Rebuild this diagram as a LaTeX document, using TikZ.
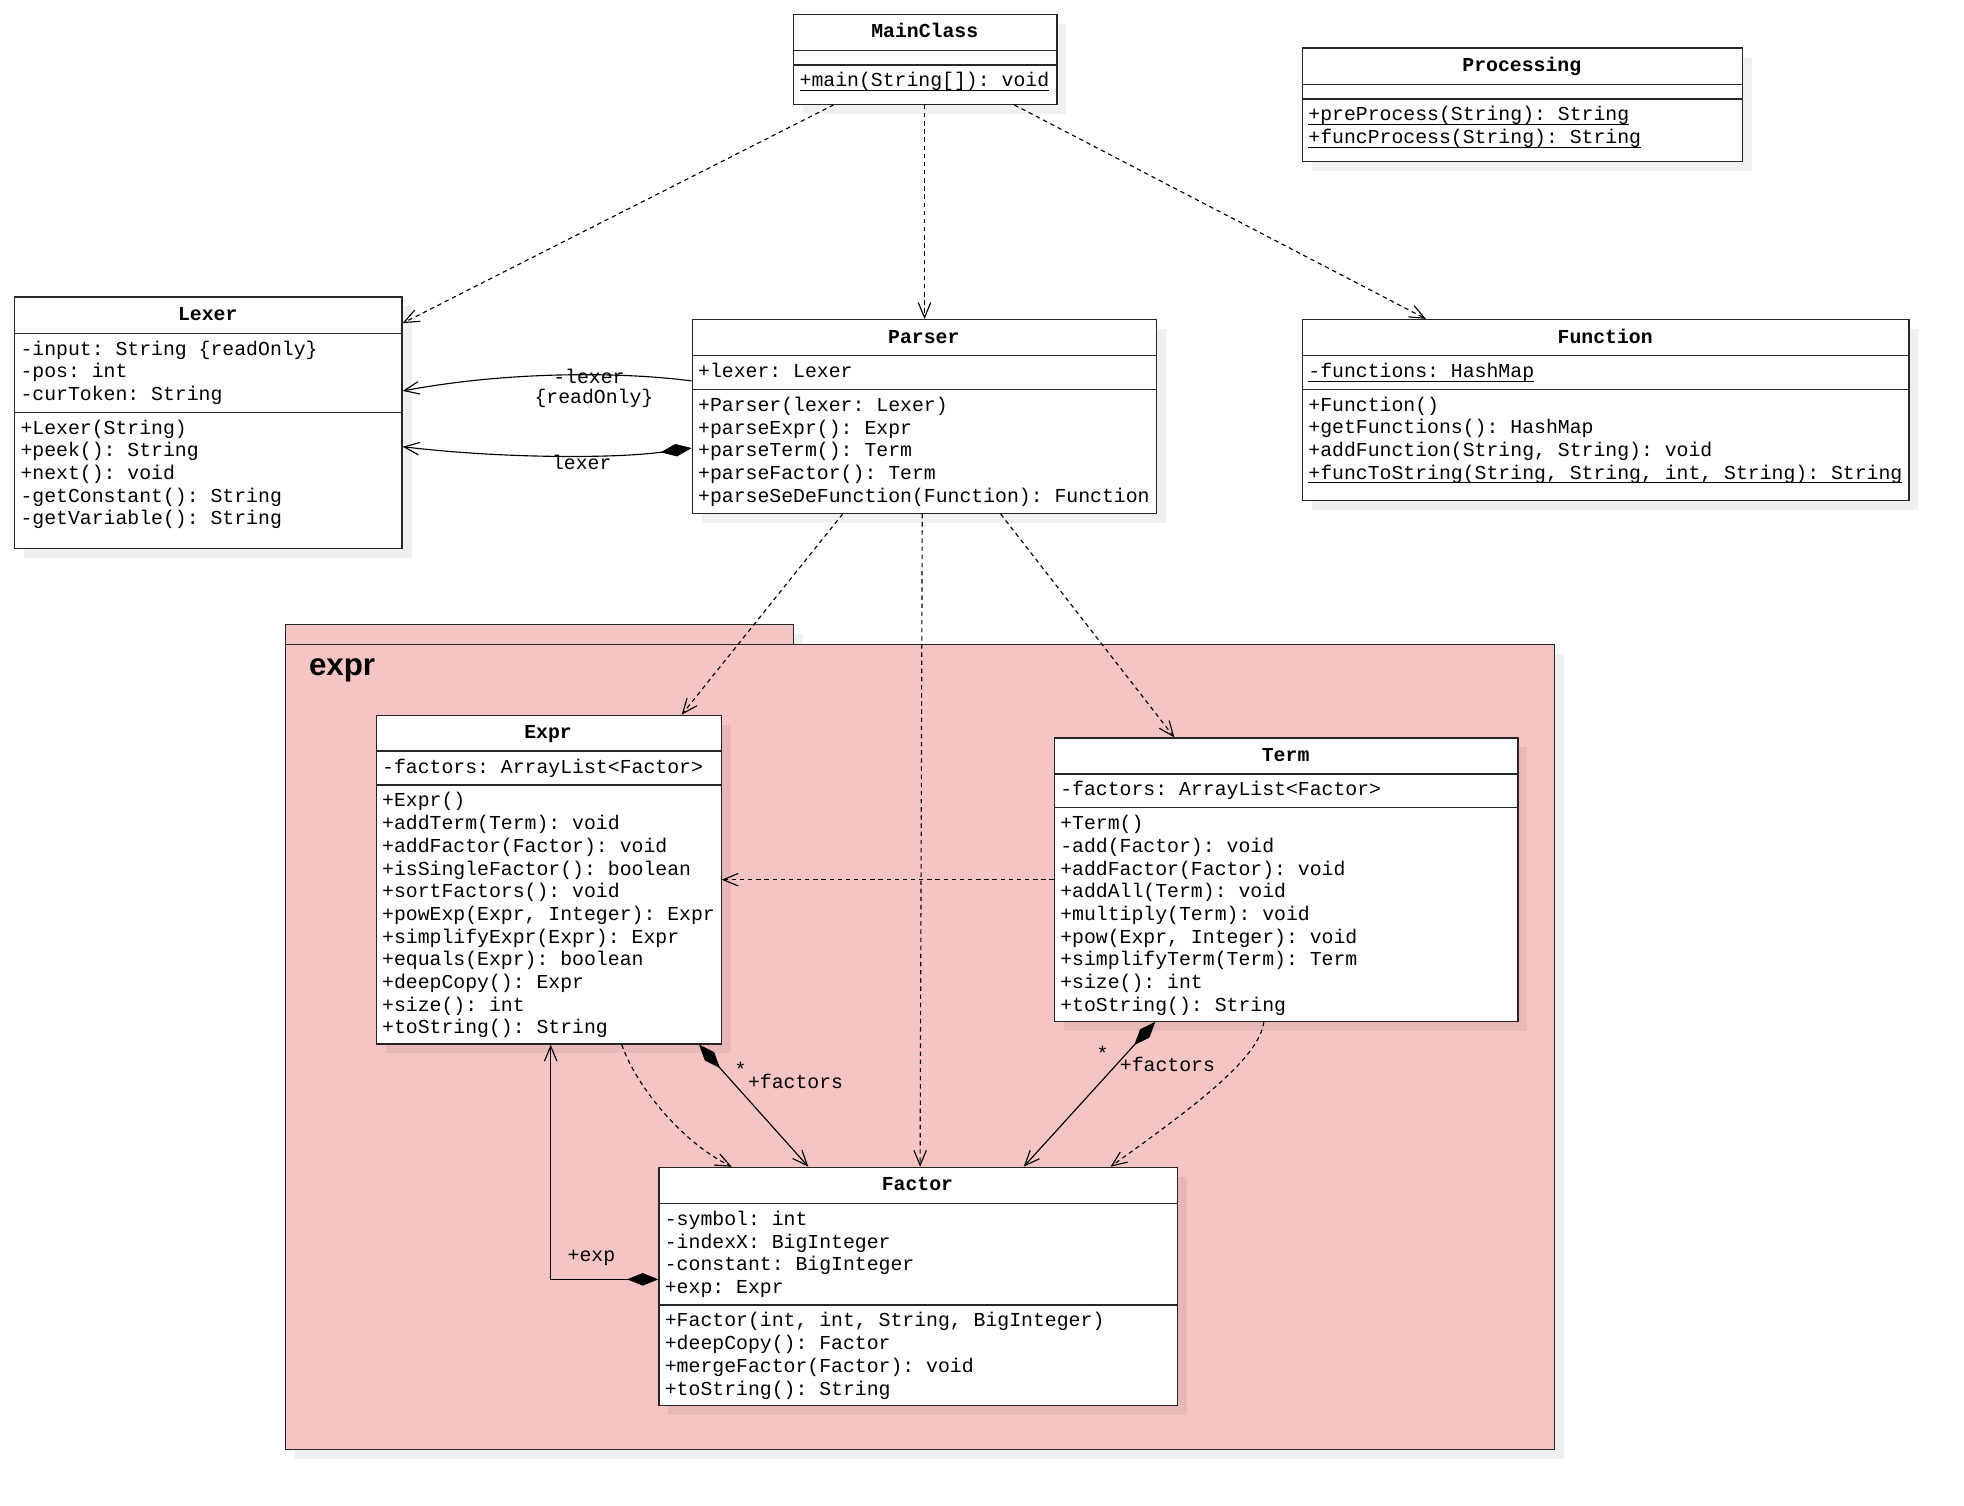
\documentclass[tikz,border=0pt]{standalone}
\usepackage{fontspec}
\setmainfont{Liberation Mono}
\newfontfamily\pkgfont{Liberation Sans}
\usepackage{tikz}
\usetikzlibrary{arrows.meta,shadows}
\frenchspacing

\definecolor{pkgpink}{RGB}{245,196,196}
\newcommand{\ulined}[1]{\setbox0=\hbox{#1}\rlap{\rule[-3.4pt]{\wd0}{0.9pt}}\box0}
\newcommand{\firstline}{\rule{0pt}{14pt}}

\tikzset{
    classbox/.style={draw=black!85, line width=1pt, fill=white, anchor=north west, inner sep=0pt,
        drop shadow={shadow xshift=7.5pt, shadow yshift=-7.5pt, fill=black, opacity=0.06}},
    pkgbox/.style={draw=black!85, line width=1pt, fill=pkgpink, anchor=north west, inner sep=0pt,
        drop shadow={shadow xshift=7.5pt, shadow yshift=-7.5pt, fill=black, opacity=0.06}},
    classname/.style={anchor=base, inner sep=0pt, font=\fontsize{15.8}{18.1}\selectfont\bfseries},
    members/.style={anchor=north west, align=left, inner sep=0pt, font=\fontsize{15.8}{18.1}\selectfont},
    lbl/.style={anchor=base, inner sep=0pt, font=\fontsize{15.8}{18.1}\selectfont},
    divider/.style={draw=black!85, line width=1pt},
    dep/.style={line width=0.9pt, dash pattern=on 3.5pt off 3pt, -{Straight Barb[length=12pt,width=10pt]}},
    assoc/.style={line width=0.9pt, -{Straight Barb[length=12pt,width=10pt]}},
    comp/.style={line width=0.9pt, {Diamond[length=25pt,width=10pt]}-{Straight Barb[length=12pt,width=10pt]}}
}

\begin{document}
\begin{tikzpicture}[x=1pt, y=-1pt]
                        \useasboundingbox (0,0) rectangle (1567.4,1201.1);

                        % package expr
                        \node[pkgbox, minimum width=405.5pt, minimum height=15.7pt] (pkgtab) at (227.5,498) {};
                        \node[pkgbox, minimum width=1012.5pt, minimum height=642.3pt] (pkgbody) at (227.5,513.7) {};
                        \node[anchor=base west, inner sep=0pt, font=\pkgfont\bfseries\fontsize{25}{30}\selectfont] (pkgname) at (246.4,538.7) {expr};

                        % MainClass
                        \node[classbox, minimum width=210pt, minimum height=71.9pt] (mainclass) at (633,10.8) {};
                        \node[classname] (mainclassT) at (738,30.1) {MainClass};
                        \draw[divider] (633,40.5) -- (843,40.5);
                        \draw[divider] (633,51.9) -- (843,51.9);
                        \node[members] (mainclassM) at (638,55.2) {\firstline\ulined{+main(String[]): void}};

                        % Processing
                        \node[classbox, minimum width=351pt, minimum height=90.6pt] (processing) at (1039,37.9) {};
                        \node[classname] (processingT) at (1214.5,57.2) {Processing};
                        \draw[divider] (1039,67.5) -- (1390,67.5);
                        \draw[divider] (1039,79) -- (1390,79);
                        \node[members] (processingM) at (1044,82.3) {\firstline\ulined{+preProcess(String): String}\\\ulined{+funcProcess(String): String}};

                        % Lexer
                        \node[classbox, minimum width=309.2pt, minimum height=200.9pt] (lexer) at (11.2,236.6) {};
                        \node[classname] (lexerT) at (165.8,255.9) {Lexer};
                        \draw[divider] (11.2,266) -- (320.4,266);
                        \draw[divider] (11.2,329) -- (320.4,329);
                        \node[members] (lexerA) at (16.2,269.3) {\firstline-input: String \{readOnly\}\\-pos: int\\-curToken: String};
                        \node[members] (lexerM) at (16.2,332.3) {\firstline+Lexer(String)\\+peek(): String\\+next(): void\\-getConstant(): String\\-getVariable(): String};

                        % Parser
                        \node[classbox, minimum width=370.6pt, minimum height=154.6pt] (parser) at (552,254.6) {};
                        \node[classname] (parserT) at (737.3,273.9) {Parser};
                        \draw[divider] (552,283.9) -- (922.6,283.9);
                        \draw[divider] (552,311) -- (922.6,311);
                        \node[members] (parserA) at (557,287.2) {\firstline+lexer: Lexer};
                        \node[members] (parserM) at (557,314.3) {\firstline+Parser(lexer: Lexer)\\+parseExpr(): Expr\\+parseTerm(): Term\\+parseFactor(): Term\\+parseSeDeFunction(Function): Function};

                        % Function
                        \node[classbox, minimum width=484pt, minimum height=144.5pt] (function) at (1039,254.5) {};
                        \node[classname] (functionT) at (1281,273.8) {Function};
                        \draw[divider] (1039,284) -- (1523,284);
                        \draw[divider] (1039,310.6) -- (1523,310.6);
                        \node[members] (functionA) at (1044,287.3) {\firstline\ulined{-functions: HashMap}};
                        \node[members] (functionM) at (1044,313.9) {\firstline+Function()\\+getFunctions(): HashMap\\+addFunction(String, String): void\\\ulined{+funcToString(String, String, int, String): String}};

                        % Expr
                        \node[classbox, minimum width=275.2pt, minimum height=262.3pt] (expr) at (299.8,570.4) {};
                        \node[classname] (exprT) at (437.4,589.7) {Expr};
                        \draw[divider] (299.8,599.4) -- (575,599.4);
                        \draw[divider] (299.8,626.5) -- (575,626.5);
                        \node[members] (exprA) at (304.8,602.7) {\firstline-factors: ArrayList<Factor>};
                        \node[members] (exprM) at (304.8,629.8) {\firstline+Expr()\\+addTerm(Term): void\\+addFactor(Factor): void\\+isSingleFactor(): boolean\\+sortFactors(): void\\+powExp(Expr, Integer): Expr\\+simplifyExpr(Expr): Expr\\+equals(Expr): boolean\\+deepCopy(): Expr\\+size(): int\\+toString(): String};

                        % Term
                        \node[classbox, minimum width=370pt, minimum height=226pt] (term) at (841,588.5) {};
                        \node[classname] (termT) at (1026,607.8) {Term};
                        \draw[divider] (841,617.7) -- (1211,617.7);
                        \draw[divider] (841,644.7) -- (1211,644.7);
                        \node[members] (termA) at (846,621) {\firstline-factors: ArrayList<Factor>};
                        \node[members] (termM) at (846,648) {\firstline+Term()\\-add(Factor): void\\+addFactor(Factor): void\\+addAll(Term): void\\+multiply(Term): void\\+pow(Expr, Integer): void\\+simplifyTerm(Term): Term\\+size(): int\\+toString(): String};

                        % Factor
                        \node[classbox, minimum width=413.6pt, minimum height=190.2pt] (factor) at (525.4,931.1) {};
                        \node[classname] (factorT) at (732.2,950.4) {Factor};
                        \draw[divider] (525.4,960.4) -- (939,960.4);
                        \draw[divider] (525.4,1041.5) -- (939,1041.5);
                        \node[members] (factorA) at (530.4,963.7) {\firstline-symbol: int\\-indexX: BigInteger\\-constant: BigInteger\\+exp: Expr};
                        \node[members] (factorM) at (530.4,1044.8) {\firstline+Factor(int, int, String, BigInteger)\\+deepCopy(): Factor\\+mergeFactor(Factor): void\\+toString(): String};

                        % dependencies
                        \draw[dep] ([xshift=-73.2pt]mainclass.south) to ([yshift=-21.3pt]lexer.north east);
                        \draw[dep] ([xshift=-0.7pt]mainclass.south) to (parser.north);
                        \draw[dep] ([xshift=70.9pt]mainclass.south) to ([xshift=99pt]function.north west);
                        \draw[dep] ([xshift=120.5pt]parser.south west) to ([xshift=244.2pt]expr.north west);
                        \draw[dep] ([xshift=184pt]parser.south west) to ([xshift=208.9pt]factor.north west);
                        \draw[dep] ([xshift=246.6pt]parser.south west) to ([xshift=96.2pt]term.north west);
                        \draw[dep] (expr.east -| term.west) to (expr.east);
                        \draw[dep] ([xshift=196.4pt]expr.south west) .. controls +(11.8,34) and +(-39,-19) .. ([xshift=58.6pt]factor.north west);
                        \draw[dep] ([xshift=167.6pt]term.south west) .. controls +(-3.6,30) and +(63.7,-46) .. ([xshift=360.9pt]factor.north west);

                        % associations
                        \draw[assoc] ([yshift=-49.4pt]parser.north west) .. controls +(-62,-8) and +(79.6,-15) .. ([yshift=-75.4pt]lexer.north east);
                        \draw[comp] ([yshift=-103pt]parser.north west) .. controls +(-62,8.4) and +(79.6,9.5) .. ([yshift=-119.9pt]lexer.north east);
                        \draw[comp] ([xshift=258.1pt]expr.south west) to ([xshift=119.7pt]factor.north west);
                        \draw[comp] ([xshift=81pt]term.south west) to ([xshift=291.6pt]factor.north west);
                        \draw[comp] ([yshift=-89.9pt]factor.north west) -| ([xshift=139.7pt]expr.south west);

                        \node[lbl] (lexerRO1) at (470,305.7) {-lexer};
                        \node[lbl] (lexerRO2) at (474,321.8) {\{readOnly\}};
                        \node[lbl] (lexerC) at (464.3,375) {lexer};
                        \node[lbl] (exprStar) at (591,859) {*};
                        \node[lbl] (exprFactors) at (634.9,868.6) {+factors};
                        \node[lbl] (termStar) at (880,846.7) {*};
                        \node[lbl] (termFactors) at (931.7,855.5) {+factors};
                        \node[lbl] (factorExp) at (472,1007) {+exp};
                    \end{tikzpicture}
\end{document}
